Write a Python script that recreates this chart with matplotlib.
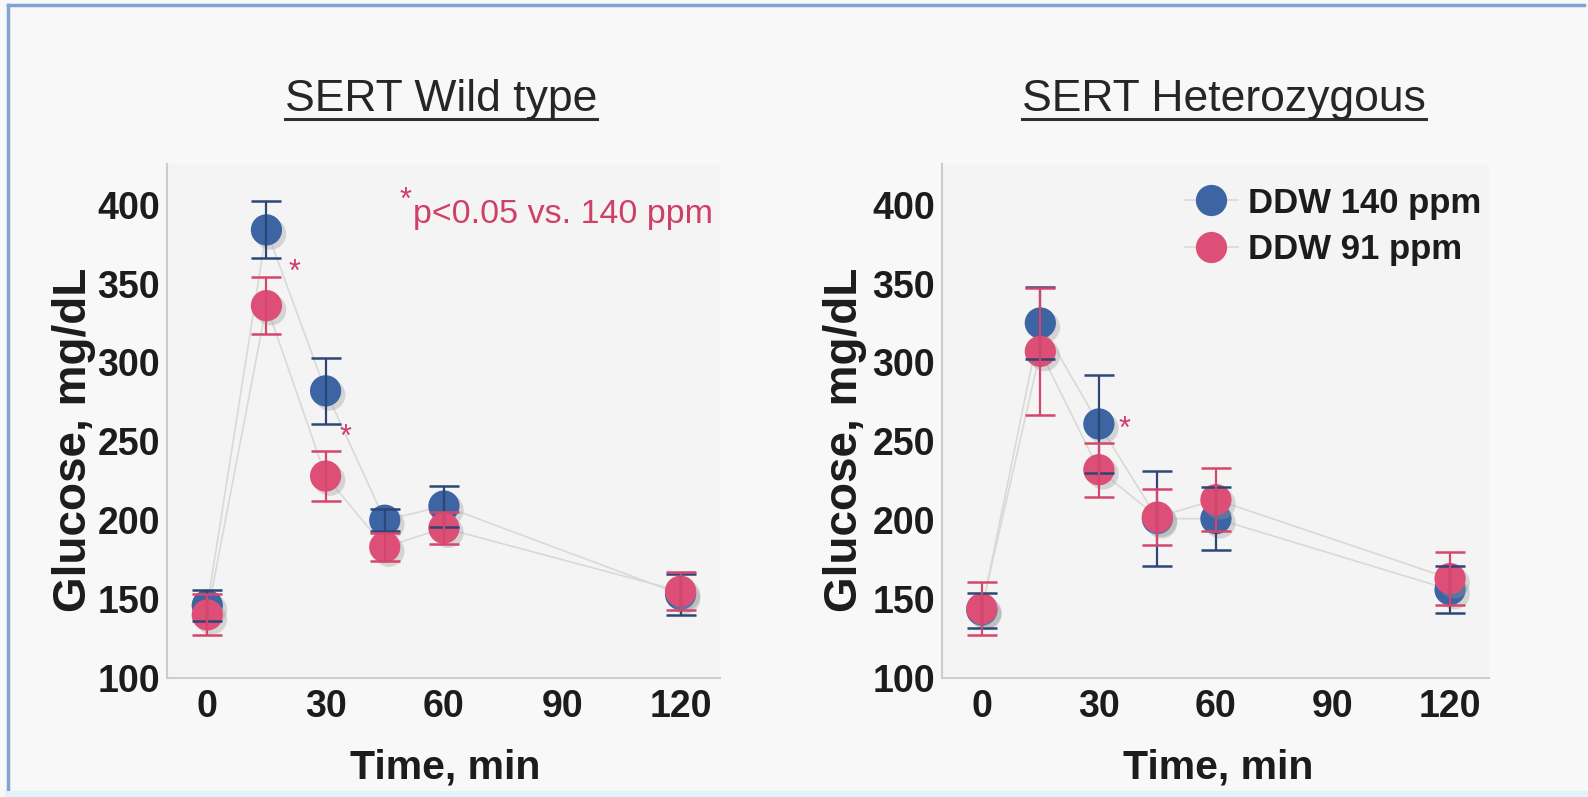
import matplotlib
matplotlib.use("Agg")
import matplotlib.pyplot as plt
from matplotlib import patheffects as pe
from matplotlib.lines import Line2D

plt.rcParams['font.family'] = ['Liberation Sans', 'DejaVu Sans']

# Oral glucose tolerance: time points (min)
time_min = [0, 15, 30, 45, 60, 120]

# SERT wild type
wt_140_mean = [146, 384, 282, 200, 209, 153]
wt_140_err = [10, 18, 21, 7, 13, 13]
wt_91_mean = [140, 336, 228, 183, 195, 155]
wt_91_err = [13, 18, 16, 9, 10, 12]

# SERT heterozygous
het_140_mean = [143, 325, 261, 201, 201, 156]
het_140_err = [11, 23, 31, 30, 20, 15]
het_91_mean = [144, 307, 232, 202, 213, 163]
het_91_err = [17, 40, 17, 18, 20, 17]

# significance markers (time, glucose level where the asterisk sits)
wt_sig = [(22, 357), (35, 252)]
het_sig = [(36.5, 257)]

panel_titles = ["SERT Wild type", "SERT Heterozygous"]
series_labels = ["DDW 140 ppm", "DDW 91 ppm"]
x_ticks = [0, 30, 60, 90, 120]
y_ticks = [100, 150, 200, 250, 300, 350, 400]

BLUE = "#3d64a3"
BLUE_BAR = "#2c4776"
RED = "#de4f77"
RED_BAR = "#d4476c"
LINE = "#d9d9d9"
SIG = "#cf3f68"
FIG_BG = "#f8f8f8"
AX_BG = "#f4f4f4"

fig = plt.figure(figsize=(15.88, 7.97), dpi=100, facecolor=FIG_BG)

ax_wt = fig.add_axes([0.1052, 0.1493, 0.3482, 0.645])
ax_het = fig.add_axes([0.5932, 0.1493, 0.3445, 0.645])

shadow = [pe.SimplePatchShadow(offset=(3, -3), shadow_rgbFace="#9a9a9a", alpha=0.35),
          pe.Normal()]


def draw_panel(ax, m140, e140, m91, e91):
    ax.set_facecolor(AX_BG)
    # connecting lines
    ax.plot(time_min, m140, color=LINE, lw=1.2, zorder=1)
    ax.plot(time_min, m91, color=LINE, lw=1.2, zorder=1)
    # markers
    h140, = ax.plot(time_min, m140, ls='none', marker='o', ms=22.5, color=BLUE,
                    mec='none', zorder=3, path_effects=shadow)
    h91, = ax.plot(time_min, m91, ls='none', marker='o', ms=22.5, color=RED,
                   mec='none', zorder=4, path_effects=shadow)
    # error bars
    ax.errorbar(time_min, m140, yerr=e140, fmt='none', ecolor=BLUE_BAR,
                elinewidth=1.6, capsize=11, capthick=1.8, zorder=5)
    ax.errorbar(time_min, m91, yerr=e91, fmt='none', ecolor=RED_BAR,
                elinewidth=1.6, capsize=11, capthick=1.8, zorder=5)

    ax.set_xlim(-10.2, 130)
    ax.set_ylim(100, 425.8)
    ax.set_xticks(x_ticks)
    ax.set_yticks(y_ticks)
    for side in ("top", "right"):
        ax.spines[side].set_visible(False)
    for side in ("left", "bottom"):
        ax.spines[side].set_color("#cccccc")
        ax.spines[side].set_linewidth(1.5)
    ax.tick_params(axis='both', length=0, labelsize=27, labelcolor="#1c1c1c")
    ax.tick_params(axis='y', pad=5)
    ax.tick_params(axis='x', pad=8)
    for lab in ax.get_xticklabels() + ax.get_yticklabels():
        lab.set_fontweight('bold')
    ax.set_xlabel("Time, min", fontsize=29.5, fontweight='bold', color="#1c1c1c")
    ax.set_ylabel("Glucose, mg/dL", fontsize=33, fontweight='bold', color="#1c1c1c")
    return h140, h91


h140, h91 = draw_panel(ax_wt, wt_140_mean, wt_140_err, wt_91_mean, wt_91_err)
draw_panel(ax_het, het_140_mean, het_140_err, het_91_mean, het_91_err)

ax_wt.yaxis.set_label_coords(-0.128, 0.463)
ax_het.yaxis.set_label_coords(-0.138, 0.463)
ax_wt.xaxis.set_label_coords(0.503, -0.138)
ax_het.xaxis.set_label_coords(0.505, -0.138)

# significance asterisks
for ax, pts in ((ax_wt, wt_sig), (ax_het, het_sig)):
    for x, y in pts:
        ax.text(x, y, "*", color=SIG, fontsize=22, ha='center', va='center', zorder=6)

ax_wt.text(0.445, 0.902, "p<0.05 vs. 140 ppm", transform=ax_wt.transAxes,
           color=SIG, fontsize=24.5, ha='left', va='center')
ax_wt.text(0.432, 0.928, "*", transform=ax_wt.transAxes,
           color=SIG, fontsize=22, ha='center', va='center')

# legend
leg = ax_het.legend([Line2D([0], [0], color=LINE, lw=1.2, marker='o', ms=22.5,
                            mfc=BLUE, mec='none'),
                     Line2D([0], [0], color=LINE, lw=1.2, marker='o', ms=22.5,
                            mfc=RED, mec='none')],
                    series_labels, loc='upper left', bbox_to_anchor=(0.445, 0.956),
                    frameon=False, prop={'size': 25, 'weight': 'bold'},
                    handlelength=1.5, handletextpad=0.3, labelspacing=0.4,
                    borderpad=0, borderaxespad=0)
for t in leg.get_texts():
    t.set_color("#1c1c1c")

# panel titles, underlined
fig.canvas.draw()
renderer = fig.canvas.get_renderer()
for cx, title in ((441, panel_titles[0]), (1224, panel_titles[1])):
    t = fig.text(cx / 1588, 1 - 99 / 797, title, fontsize=32, ha='center',
                 va='center', color="#262626")
    bb = t.get_window_extent(renderer=renderer)
    uy = 1 - 119 / 797
    fig.add_artist(Line2D([bb.x0 / 1588, bb.x1 / 1588], [uy, uy],
                          transform=fig.transFigure, color="#303030", lw=2.2))

# window frame
frame_blue = "#7fa3d3"
fig.add_artist(Line2D([8 / 1588, 1584 / 1588], [1 - 5 / 797, 1 - 5 / 797],
                      transform=fig.transFigure, color=frame_blue, lw=2.5))
fig.add_artist(Line2D([8 / 1588, 8 / 1588], [1 - 5 / 797, 4 / 797],
                      transform=fig.transFigure, color=frame_blue, lw=2.5))
fig.add_artist(Line2D([8 / 1588, 1584 / 1588], [3 / 797, 3 / 797],
                      transform=fig.transFigure, color="#dff3fb", lw=5))

fig.savefig("out.png", dpi=100, facecolor=FIG_BG)
